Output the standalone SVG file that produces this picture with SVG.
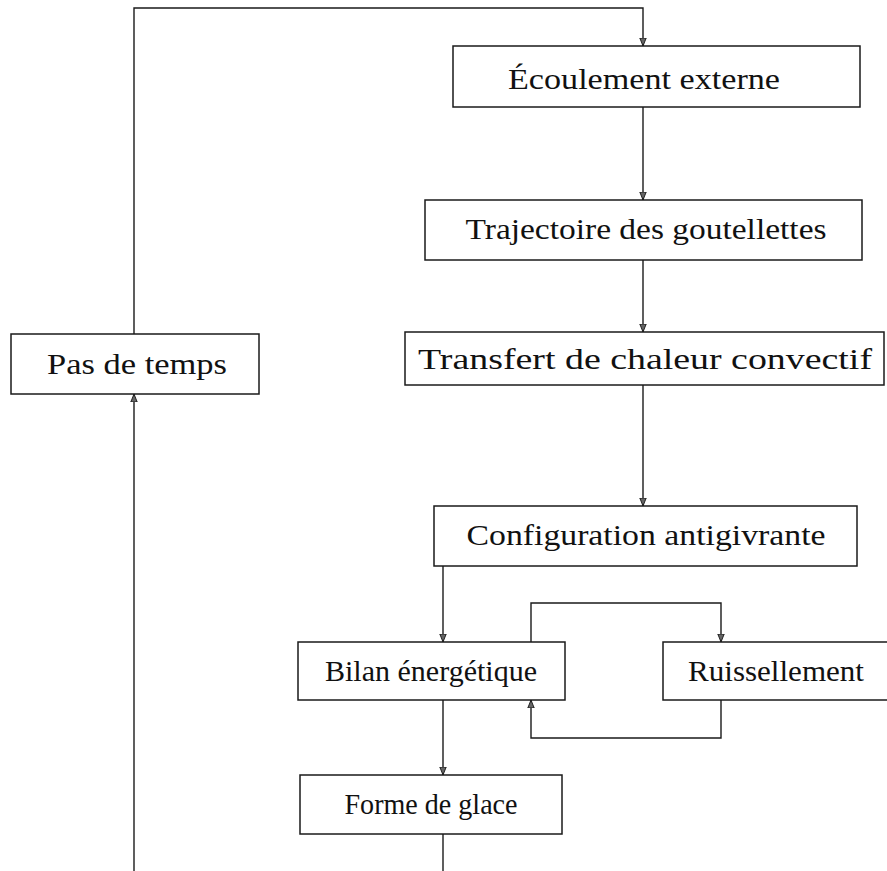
<svg xmlns="http://www.w3.org/2000/svg" width="887" height="871" viewBox="0 0 887 871">
<style>
.box{fill:#fff;stroke:#1a1a1a;stroke-width:1.5}
.lbl{font-family:"Liberation Serif","DejaVu Serif",serif;font-size:30px;fill:#111;text-anchor:middle}
.ln{fill:none;stroke:#1a1a1a;stroke-width:1.4}
</style>
<defs>
<marker id="ah" viewBox="0 0 10 10" refX="10" refY="5" markerWidth="8" markerHeight="8" markerUnits="userSpaceOnUse" orient="auto">
<path d="M0,1 L10,5 L0,9 Z" fill="#666" stroke="#1a1a1a" stroke-width="1.2"/>
</marker>
</defs>
<rect width="887" height="871" fill="#fff"/>
<g id="connectors">
<path class="ln" d="M134,334 V8 H643 V46" marker-end="url(#ah)"/>
<path class="ln" d="M643,107 V200" marker-end="url(#ah)"/>
<path class="ln" d="M643,260 V332" marker-end="url(#ah)"/>
<path class="ln" d="M643,385 V506" marker-end="url(#ah)"/>
<path class="ln" d="M443,566 V642" marker-end="url(#ah)"/>
<path class="ln" d="M443,700 V775" marker-end="url(#ah)"/>
<path class="ln" d="M443,834 V871"/>
<path class="ln" d="M134,871 V394" marker-end="url(#ah)"/>
<path class="ln" d="M531,642 V603 H721 V642" marker-end="url(#ah)"/>
<path class="ln" d="M721,700 V738 H531 V700" marker-end="url(#ah)"/>
</g>
<g id="ecoulement"><rect class="box" x="453" y="46" width="407" height="61"/><text class="lbl" x="644" y="89" textLength="272" lengthAdjust="spacingAndGlyphs">Écoulement externe</text></g>
<g id="trajectoire"><rect class="box" x="425" y="200" width="437" height="60"/><text class="lbl" x="646" y="239" textLength="361" lengthAdjust="spacingAndGlyphs">Trajectoire des goutellettes</text></g>
<g id="transfert"><rect class="box" x="405" y="332" width="479" height="53"/><text class="lbl" x="645" y="369" textLength="454" lengthAdjust="spacingAndGlyphs">Transfert de chaleur convectif</text></g>
<g id="configuration"><rect class="box" x="434" y="506" width="423" height="60"/><text class="lbl" x="646" y="545" textLength="359" lengthAdjust="spacingAndGlyphs">Configuration antigivrante</text></g>
<g id="bilan"><rect class="box" x="298" y="642" width="267" height="58"/><text class="lbl" x="431" y="681" textLength="212" lengthAdjust="spacingAndGlyphs">Bilan énergétique</text></g>
<g id="ruissellement"><rect class="box" x="663" y="642" width="230" height="58"/><text class="lbl" x="776" y="681" textLength="176" lengthAdjust="spacingAndGlyphs">Ruissellement</text></g>
<g id="forme"><rect class="box" x="300" y="775" width="262" height="59"/><text class="lbl" x="431" y="814" textLength="173" lengthAdjust="spacingAndGlyphs">Forme de glace</text></g>
<g id="pas"><rect class="box" x="11" y="334" width="248" height="60"/><text class="lbl" x="137" y="374" textLength="180" lengthAdjust="spacingAndGlyphs">Pas de temps</text></g>
</svg>
